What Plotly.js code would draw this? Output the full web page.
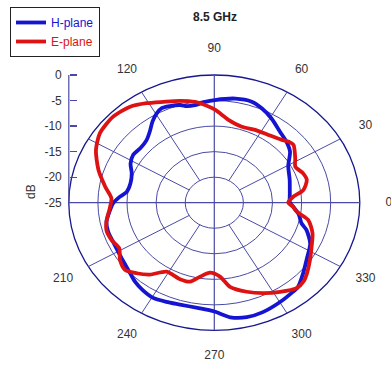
<!DOCTYPE html>
<html>
<head>
<meta charset="utf-8">
<script src="https://cdn.plot.ly/plotly-3.0.1.min.js"></script>
<style>html,body{margin:0;padding:0;background:#fff}#chart{width:391px;height:367px}</style>
</head>
<body>
<div id="chart"></div>
<script>
// ---- data (angle in degrees, level in dB) ----
const hTheta = [0, 8, 19, 29.5, 37.5, 43.8, 50.9, 59.2, 66.2, 72, 80, 89.7, 94.6, 99.8, 104, 107, 112, 116, 119.5, 123.8, 128.5, 133.5, 140, 146, 152, 158, 165, 172, 176, 180.4, 185.6, 191.4, 197.3, 203.8, 210.2, 216.4, 223.7, 228.6, 234.5, 240.3, 247, 253.5, 262, 270, 277, 284, 291, 300, 307, 311, 317.8, 324.8, 334.2, 341.4, 345, 351, 356.7, 360];
const hDb = [-12.0, -11.9, -11.3, -10.4, -8.6, -7.8, -7.1, -5.8, -4.8, -4.2, -4.3, -4.9, -5.2, -5.6, -5.5, -5.0, -4.6, -4.4, -4.9, -5.9, -7.2, -8.1, -8.4, -8.2, -8.7, -9.7, -10.1, -9.8, -8.7, -7.6, -6.9, -6.1, -5.9, -6.0, -5.9, -5.6, -5.0, -4.4, -3.9, -3.6, -3.9, -4.2, -4.2, -3.7, -2.4, -1.9, -2.0, -2.5, -2.9, -3.1, -4.4, -5.6, -6.7, -8.3, -9.5, -10.3, -11.4, -12.0];
const eTheta = [0, 4.9, 9.2, 15.6, 20.6, 26.9, 32, 39.8, 43, 46.7, 55, 63.8, 72.4, 81.5, 89.6, 94.8, 99.5, 106.5, 113.9, 120.9, 127.6, 135.9, 145.3, 153.1, 162.2, 170.5, 177.2, 183.5, 190.4, 196.1, 202.5, 208.5, 214.7, 220.5, 226, 231.8, 238.8, 248.5, 254.9, 260.4, 266.9, 273.9, 279.3, 287.7, 295.4, 302.9, 310.2, 315.3, 319, 325.7, 332.8, 340.5, 348.1, 352.9, 356.8, 360];
const eDb = [-12.3, -11.4, -9.5, -8.5, -8.7, -9.4, -8.6, -7.3, -7.5, -8.1, -8.8, -9.1, -9.4, -8.6, -6.8, -5.8, -5.0, -4.2, -3.4, -2.3, -1.3, -0.8, -1.1, -2.2, -4.1, -6.0, -7.3, -7.0, -6.2, -5.7, -5.9, -6.4, -5.3, -4.8, -5.8, -7.1, -9.2, -8.9, -9.0, -10.3, -11.3, -10.5, -8.3, -6.7, -5.4, -4.2, -3.1, -3.3, -3.9, -5.1, -6.2, -7.1, -8.5, -10.7, -11.5, -12.3];
const seriesNames = ['H-plane', 'E-plane'];
const radialTicks = [0, -5, -10, -15, -20, -25];
const ringLevels = [-20, -15, -10, -5, 0];
const angleTicks = [0, 30, 60, 90, 120, 210, 240, 270, 300, 330];
const spokeAngles = [30, 60, 120, 150, 210, 240, 300, 330];
const titleText = '8.5 GHz';
const unitLabel = 'dB';

// ---- geometry helpers (dB -> radius in the cartesian frame) ----
const rMin = -25, rMax = 0;
const rad = d => d - rMin;
const toXY = (th, db) => {
  const x = [], y = [];
  th.forEach((t, i) => { const r = rad(db[i]); const a = t * Math.PI / 180; x.push(r * Math.cos(a)); y.push(r * Math.sin(a)); });
  return {x, y};
};

const gridCol = '#4a4aa6', outerCol = '#16168f';
const shapes = [];
ringLevels.forEach(l => {
  const r = rad(l);
  shapes.push({type: 'circle', xref: 'x', yref: 'y', x0: -r, x1: r, y0: -r, y1: r, layer: 'below',
    line: {color: l === rMax ? outerCol : gridCol, width: l === rMax ? 1.3 : 1}});
});
spokeAngles.forEach(a => {
  const t = a * Math.PI / 180, r0 = rad(ringLevels[0]), r1 = rad(rMax);
  shapes.push({type: 'line', xref: 'x', yref: 'y', layer: 'below', x0: r0 * Math.cos(t), y0: r0 * Math.sin(t), x1: r1 * Math.cos(t), y1: r1 * Math.sin(t), line: {color: gridCol, width: 1}});
});
const R = rad(rMax);
shapes.push({type: 'line', xref: 'x', yref: 'y', layer: 'below', x0: -R, y0: 0, x1: R, y1: 0, line: {color: gridCol, width: 1.2}});
shapes.push({type: 'line', xref: 'x', yref: 'y', layer: 'below', x0: 0, y0: -R, x1: 0, y1: R, line: {color: gridCol, width: 1.2}});
// radial scale axis line on the left
shapes.push({type: 'line', xref: 'x', yref: 'y', layer: 'below', x0: -R, y0: 0, x1: -R, y1: R, line: {color: gridCol, width: 1.2}});

const h = toXY(hTheta, hDb), e = toXY(eTheta, eDb);
const labR = R + 5;
const lab = {x: angleTicks.map(a => labR * Math.cos(a * Math.PI / 180)), y: angleTicks.map(a => labR * Math.sin(a * Math.PI / 180))};

const traces = [
  {type: 'scatter', mode: 'lines', x: h.x, y: h.y, name: '<span style="color:#1414d2">' + seriesNames[0] + '</span>',
   line: {color: '#1414d2', width: 3.8, shape: 'spline', smoothing: 0.7}, hoverinfo: 'skip'},
  {type: 'scatter', mode: 'lines', x: e.x, y: e.y, name: '<span style="color:#de1212">' + seriesNames[1] + '</span>',
   line: {color: '#de1212', width: 3.8, shape: 'spline', smoothing: 0.7}, hoverinfo: 'skip'},
  {type: 'scatter', mode: 'text', x: lab.x, y: lab.y, text: angleTicks.map(String), showlegend: false, hoverinfo: 'skip',
   textfont: {family: 'Liberation Sans, Arial, sans-serif', size: 12, color: '#333'}}
];

const W = 391, H = 367, cx = 214.3, cy = 202.7, sx = 5.82, sy = 5.108;
const layout = {
  width: W, height: H,
  margin: {l: 0, r: 0, t: 0, b: 0, pad: 0},
  paper_bgcolor: '#fff', plot_bgcolor: '#fff',
  font: {family: 'Liberation Sans, Arial, sans-serif', size: 12, color: '#333'},
  title: {text: '<b>' + titleText + '</b>', x: 215 / W, xanchor: 'center', y: 1 - 16.5 / H, yanchor: 'middle',
          font: {size: 12, color: '#222', family: 'Liberation Sans, Arial, sans-serif'}},
  xaxis: {range: [-cx / sx, (W - cx) / sx], showgrid: false, zeroline: false, showticklabels: false, ticks: '', showline: false, fixedrange: true},
  yaxis: {range: [-(H - cy) / sy, cy / sy], showgrid: false, zeroline: false, showline: false, fixedrange: true,
          anchor: 'free', position: (cx - R * sx) / W, side: 'left',
          tickmode: 'array', tickvals: radialTicks.map(rad), ticktext: radialTicks.map(String),
          ticks: 'inside', ticklen: 7, tickcolor: gridCol, tickwidth: 1.2, ticklabelstandoff: 7,
          tickfont: {size: 12, color: '#333'}},
  shapes: shapes,
  annotations: [{text: unitLabel, xref: 'paper', yref: 'paper', x: 22 / W, y: 1 - 192 / H, showarrow: false,
                 textangle: -90, font: {size: 12, color: '#333'}}],
  showlegend: true,
  legend: {x: 10 / W, y: 1 - 7 / H, xanchor: 'left', yanchor: 'top', bgcolor: '#fff', bordercolor: '#222', borderwidth: 1,
           font: {size: 12, family: 'Liberation Sans, Arial, sans-serif'}, tracegroupgap: 0, itemwidth: 30}
};

Plotly.newPlot('chart', traces, layout, {displayModeBar: false, staticPlot: true});
</script>
</body>
</html>
